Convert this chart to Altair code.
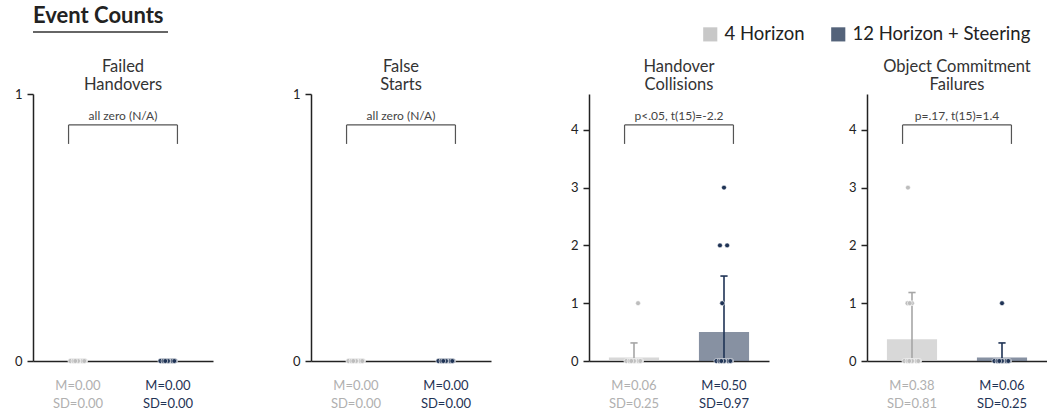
import altair as alt
import pandas as pd

FONT = "Lato"
W, H = 180, 267

GROUPS = ["4 Horizon", "12 Horizon + Steering"]
GROUP_POS = [1, 3]
BAR_COLORS = ["#c8c8c8", "#54637a"]
DOT_COLORS = ["#bdbdbd", "#1f3355"]
ERR_COLORS = ["#a6a6a6", "#1f3355"]
TEXT_COLORS = ["#b0b0b0", "#1f3355"]

CHART_TITLE = "Event Counts"
PANEL_TITLES = [["Failed", "Handovers"], ["False", "Starts"],
                ["Handover", "Collisions"], ["Object Commitment", "Failures"]]
Y_MAX = [1, 1, 4.62, 4.62]
Y_TICKS = [[0, 1], [0, 1], [0, 1, 2, 3, 4], [0, 1, 2, 3, 4]]
ANNOT = ["all zero (N/A)", "all zero (N/A)", "p<.05, t(15)=-2.2", "p=.17, t(15)=1.4"]

MEANS = [[0.00, 0.00], [0.00, 0.00], [0.0625, 0.50], [0.375, 0.0625]]
SDS = [[0.00, 0.00], [0.00, 0.00], [0.25, 0.97], [0.81, 0.25]]

# per-participant counts (16 participants) for [4 Horizon, 12 Horizon + Steering]
VALUES = [
    [[0, 0, 0, 0, 0, 0, 0, 0, 0, 0, 0, 0, 0, 0, 0, 0],
     [0, 0, 0, 0, 0, 0, 0, 0, 0, 0, 0, 0, 0, 0, 0, 0]],
    [[0, 0, 0, 0, 0, 0, 0, 0, 0, 0, 0, 0, 0, 0, 0, 0],
     [0, 0, 0, 0, 0, 0, 0, 0, 0, 0, 0, 0, 0, 0, 0, 0]],
    [[1, 0, 0, 0, 0, 0, 0, 0, 0, 0, 0, 0, 0, 0, 0, 0],
     [3, 2, 2, 1, 0, 0, 0, 0, 0, 0, 0, 0, 0, 0, 0, 0]],
    [[3, 1, 1, 1, 0, 0, 0, 0, 0, 0, 0, 0, 0, 0, 0, 0],
     [1, 0, 0, 0, 0, 0, 0, 0, 0, 0, 0, 0, 0, 0, 0, 0]],
]
# horizontal jitter (x-units)
JITTER = [
    [[-0.15, 0.05, -0.08, 0.12, -0.02, 0.16, -0.12, 0.08, -0.05, 0.02, -0.17, 0.10, -0.10, 0.14, 0.00, -0.06],
     [-0.15, 0.05, -0.08, 0.12, -0.02, 0.16, -0.12, 0.08, -0.05, 0.02, -0.17, 0.10, -0.10, 0.14, 0.00, -0.06]],
    [[-0.15, 0.05, -0.08, 0.12, -0.02, 0.16, -0.12, 0.08, -0.05, 0.02, -0.17, 0.10, -0.10, 0.14, 0.00, -0.06],
     [-0.15, 0.05, -0.08, 0.12, -0.02, 0.16, -0.12, 0.08, -0.05, 0.02, -0.17, 0.10, -0.10, 0.14, 0.00, -0.06]],
    [[0.09, 0.05, -0.08, 0.12, -0.02, 0.16, -0.12, 0.08, -0.05, 0.02, -0.17, 0.10, -0.10, 0.14, 0.00, -0.06],
     [0.00, -0.09, 0.07, -0.04, -0.02, 0.16, -0.12, 0.08, -0.05, 0.02, -0.17, 0.10, -0.10, 0.14, 0.00, -0.06]],
    [[-0.09, -0.10, 0.00, -0.05, -0.02, 0.16, -0.12, 0.08, -0.05, 0.02, -0.17, 0.10, -0.10, 0.14, 0.00, -0.06],
     [0.00, 0.05, -0.08, 0.12, -0.02, 0.16, -0.12, 0.08, -0.05, 0.02, -0.17, 0.10, -0.10, 0.14, 0.00, -0.06]],
]

BAR_HALF = 0.557
CAP_HALF = 0.08
BR_LEFT, BR_RIGHT = 0.79, 3.21
BR_TOP, BR_BOT = 0.884, 0.813


def panel(i):
    ymax = Y_MAX[i]
    xsc = alt.Scale(domain=[0, 4], nice=False, zero=False)
    ysc = alt.Scale(domain=[0, ymax], nice=False, zero=True)
    xaxis = alt.Axis(ticks=False, labels=False, grid=False, title=None,
                     domainColor="#222", domainWidth=1.5)
    yaxis = alt.Axis(values=Y_TICKS[i], format="d", tickSize=6, tickWidth=1.5,
                     domainWidth=1.5, domainColor="#222", tickColor="#222",
                     labelColor="#222", labelFontSize=13, labelFont=FONT,
                     labelPadding=5, grid=False, title=None,
                     minExtent=25, maxExtent=25)

    stats = pd.DataFrame({
        "group": GROUPS,
        "pos": GROUP_POS,
        "xl": [p - BAR_HALF for p in GROUP_POS],
        "xr": [p + BAR_HALF for p in GROUP_POS],
        "cl": [p - CAP_HALF for p in GROUP_POS],
        "cr": [p + CAP_HALF for p in GROUP_POS],
        "mean": MEANS[i],
        "sd": SDS[i],
        "base": [0, 0],
        "lo": [max(0, m - s) for m, s in zip(MEANS[i], SDS[i])],
        "hi": [m + s for m, s in zip(MEANS[i], SDS[i])],
        "ec": ERR_COLORS,
        "tc": TEXT_COLORS,
        "label": [f"M={m:.2f}\nSD={s:.2f}" for m, s in zip(MEANS[i], SDS[i])],
    })

    bars = alt.Chart(stats).mark_bar(opacity=0.7).encode(
        x=alt.X("xl:Q", scale=xsc, axis=xaxis),
        x2="xr",
        y=alt.Y("mean:Q", scale=ysc, axis=yaxis),
        y2="base",
        color=alt.Color("group:N", scale=alt.Scale(domain=GROUPS, range=BAR_COLORS),
                        legend=alt.Legend(orient="none", legendX=668, legendY=21,
                                          direction="horizontal", title=None,
                                          symbolType="square", symbolSize=200,
                                          symbolOpacity=1, symbolStrokeWidth=0,
                                          labelFontSize=18.5, labelFont=FONT,
                                          labelColor="#222", columnPadding=24,
                                          labelOffset=5, labelLimit=400)),
    )

    errs = stats[stats["sd"] > 0]
    err_line = alt.Chart(errs).mark_rule(strokeWidth=1.6).encode(
        x=alt.X("pos:Q", scale=xsc), y=alt.Y("lo:Q", scale=ysc), y2="hi",
        color=alt.Color("ec:N", scale=None))
    err_cap = alt.Chart(errs).mark_rule(strokeWidth=1.6).encode(
        x=alt.X("cl:Q", scale=xsc), x2="cr", y=alt.Y("hi:Q", scale=ysc),
        color=alt.Color("ec:N", scale=None))

    rows = []
    for g in range(2):
        for v, j in zip(VALUES[i][g], JITTER[i][g]):
            rows.append({"x": GROUP_POS[g] + j, "v": v, "dc": DOT_COLORS[g]})
    dots = alt.Chart(pd.DataFrame(rows)).mark_circle(
        size=24, opacity=1, stroke="white", strokeWidth=0.6).encode(
        x=alt.X("x:Q", scale=xsc), y=alt.Y("v:Q", scale=ysc),
        color=alt.Color("dc:N", scale=None))

    br = pd.DataFrame({
        "x": [BR_LEFT, BR_LEFT, BR_RIGHT],
        "x2": [BR_RIGHT, BR_LEFT, BR_RIGHT],
        "y": [BR_TOP * ymax, BR_BOT * ymax, BR_BOT * ymax],
        "y2": [BR_TOP * ymax, BR_TOP * ymax, BR_TOP * ymax],
    })
    bracket = alt.Chart(br).mark_rule(color="#555", strokeWidth=1.2).encode(
        x=alt.X("x:Q", scale=xsc), x2="x2", y=alt.Y("y:Q", scale=ysc), y2="y2")
    ann = alt.Chart(pd.DataFrame({"x": [2], "y": [BR_TOP * ymax], "t": [ANNOT[i]]})).mark_text(
        baseline="bottom", dy=-2, fontSize=12, font=FONT, color="#444").encode(
        x=alt.X("x:Q", scale=xsc), y=alt.Y("y:Q", scale=ysc), text="t:N")

    stat_text = alt.Chart(stats).mark_text(
        baseline="top", lineBreak="\n", fontSize=13, lineHeight=18, font=FONT).encode(
        x=alt.X("pos:Q", scale=xsc), y=alt.value(H + 19), text="label:N",
        color=alt.Color("tc:N", scale=None))

    ptitle = alt.Chart(pd.DataFrame({"t": ["\n".join(PANEL_TITLES[i])]})).mark_text(
        baseline="middle", lineBreak="\n", fontSize=16.5, lineHeight=18, font=FONT,
        color="#333").encode(x=alt.value(W / 2), y=alt.value(-27), text="t:N")

    return alt.layer(bars, err_line, err_cap, dots, bracket, ann, stat_text, ptitle).properties(
        width=W, height=H)


header_txt = alt.Chart(pd.DataFrame({"t": [CHART_TITLE]})).mark_text(
    align="left", baseline="alphabetic", fontSize=22, fontWeight="bold",
    font=FONT, color="#222").encode(x=alt.value(0), y=alt.value(19), text="t:N")
underline = alt.Chart(pd.DataFrame({"a": [0]})).mark_rule(
    color="#333", strokeWidth=1.5).encode(
    x=alt.value(0), x2=alt.value(135), y=alt.value(28))
header = alt.layer(header_txt, underline).properties(width=W, height=30)

panels = alt.hconcat(*[panel(i) for i in range(4)], spacing=73)

chart = alt.vconcat(header, panels, spacing=25).properties(
    padding={"left": 8, "top": 4, "right": 0, "bottom": 0}
).configure(font=FONT).configure_view(stroke=None)

chart.save("out.html", embed_options={"renderer": "svg", "actions": False})
